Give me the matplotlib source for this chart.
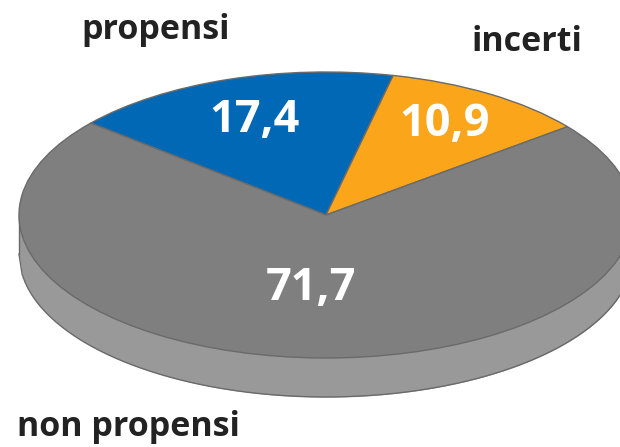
import matplotlib
matplotlib.use("Agg")
import matplotlib.pyplot as plt
import numpy as np

labels = ["propensi", "incerti", "non propensi"]
values = [17.4, 10.9, 71.7]
colors = ["#0068b4", "#fba51a", "#7f7f7f"]
value_labels = ["17,4", "10,9", "71,7"]


def main():
    plt.rcParams["font.family"] = ["Open Sans", "DejaVu Sans"]
    fig = plt.figure(figsize=(6.2, 4.47), dpi=100)
    ax = fig.add_axes([0, 0, 1, 1])

    # pixel coordinates of the picture, the pie is squashed by the axes limits
    rx = 307
    ry = 143
    cx = 326
    cy = 215
    depth = 39
    edge = "#6a6a6a"

    # side of the disc
    xs = np.linspace(-1, 1, 200)
    lower = -np.sqrt(1 - xs ** 2) - depth / ry
    upper = np.sqrt(1 - xs ** 2)
    ax.fill_between(xs, lower, upper, color="#999999", lw=0, zorder=1)
    ax.plot(xs, lower, color=edge, lw=1.0, zorder=2)
    ax.plot([-1, -1], [0, -depth / ry], color=edge, lw=1.0, zorder=2)
    ax.plot([1, 1], [0, -depth / ry], color=edge, lw=1.0, zorder=2)

    ax.pie(values, colors=colors, startangle=140.0, counterclock=False, radius=1,
           wedgeprops={"edgecolor": edge, "linewidth": 1.0, "zorder": 3})

    ax.set_aspect("auto")
    ax.set_xlim(-cx / rx, (620 - cx) / rx)
    ax.set_ylim(-(447 - cy) / ry, cy / ry)
    ax.axis("off")

    label_style = {"fontsize": 24.5, "fontweight": "bold", "color": "#222222", "ha": "center", "va": "center"}
    fig.text(156 / 620, 1 - 30 / 447, labels[0], **label_style)
    fig.text(527 / 620, 1 - 42 / 447, labels[1], **label_style)
    fig.text(128 / 620, 1 - 427 / 447, labels[2], **label_style)

    value_style = {"fontsize": 32.5, "fontweight": "bold", "color": "white", "ha": "center", "va": "center"}
    fig.text(255 / 620, 1 - 120 / 447, value_labels[0], **value_style)
    fig.text(445 / 620, 1 - 124 / 447, value_labels[1], **value_style)
    fig.text(311 / 620, 1 - 288 / 447, value_labels[2], **value_style)

    fig.savefig("out.png", dpi=100)


if __name__ == "__main__":
    main()
